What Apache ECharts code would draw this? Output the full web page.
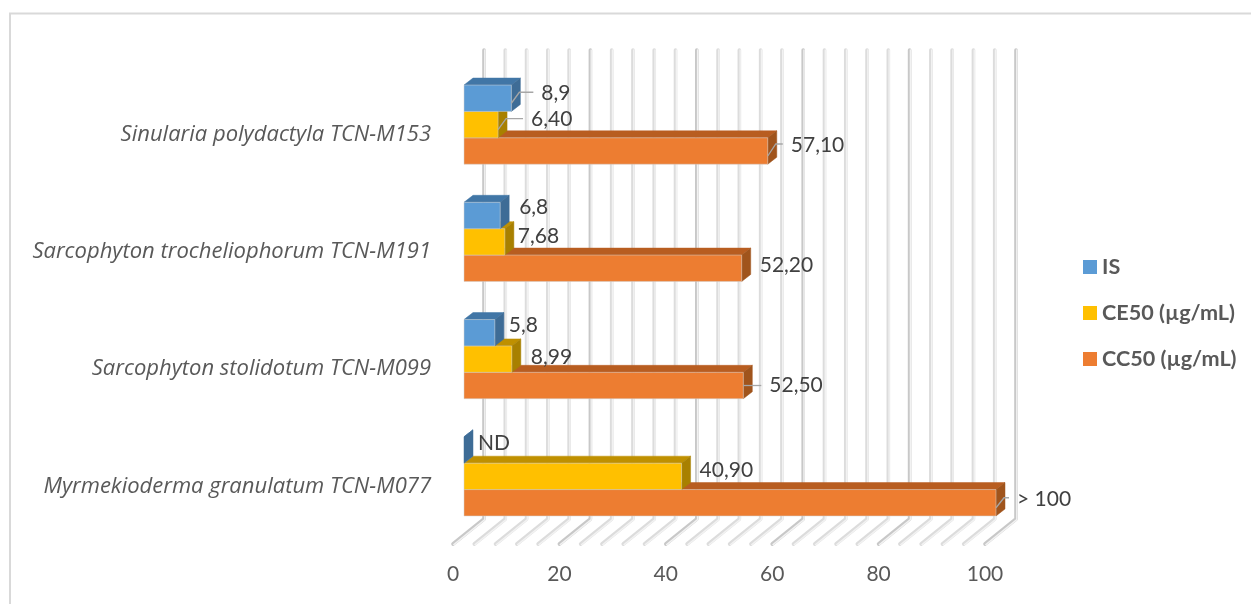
<!DOCTYPE html>
<html><head><meta charset="utf-8">
<style>html,body{margin:0;padding:0;background:#fff}#c{width:1251px;height:604px}</style>
<script src="https://cdn.jsdelivr.net/npm/echarts@6/dist/echarts.min.js"></script>
</head><body><div id="c"></div>
<script>
const categories = ['Myrmekioderma granulatum TCN-M077','Sarcophyton stolidotum TCN-M099','Sarcophyton trocheliophorum TCN-M191','Sinularia polydactyla TCN-M153'];
const isValues = [0, 5.8, 6.8, 8.9];
const ceValues = [40.9, 8.99, 7.68, 6.4];
const ccValues = [100, 52.5, 52.2, 57.1];
const isLabels = ['ND','5,8','6,8','8,9'];
const ceLabels = ['40,90','8,99','7,68','6,40'];
const ccLabels = ['> 100','52,50','52,20','57,10'];
const gridValues = [0,4,8,12,16,20,24,28,32,36,40,44,48,52,56,60,64,68,72,76,80,84,88,92,96,100];
// label placement relative to bar end: [text dx, text dy from bar centre, has leader line]
const isShift = [[5,-7,0],[5,-8,0],[10,-8,0],[21,-5,1]];
const ceShift = [[9,-6,0],[10,-2,0],[4,-6,0],[24,-5,1]];
const ccShift = [[12,-4,1],[17,0,1],[9,-3,0],[14,-6,1]];

const DX = 9, DY = -7, BAR = 0.225;
const FONT = 'Lato, Carlito, Calibri, sans-serif';

function barSeries(name, values, labels, shift, slot, front, side, top) {
  return {
    type: 'custom', name, coordinateSystem: 'cartesian2d', z: 5,
    itemStyle: {color: front},
    data: values.map((v, i) => [v, i]),
    encode: {x: 0, y: 1},
    renderItem(params, api) {
      const i = api.value(1), v = api.value(0);
      const band = api.size([0, 1])[1], h = band * BAR;
      const p0 = api.coord([0, i]), p1 = api.coord([v, i]);
      const x0 = p0[0], x1 = p1[0], yc = p0[1] + slot * h;
      const t = yc - h / 2, b = yc + h / 2;
      const poly = (pts, fill) => ({type: 'polygon', shape: {points: pts}, style: {fill, stroke: fill, lineWidth: 0.5}});
      const children = [
        poly([[x0, t], [x1, t], [x1 + DX, t + DY], [x0 + DX, t + DY]], top),
        poly([[x1, t], [x1 + DX, t + DY], [x1 + DX, b + DY], [x1, b]], side)
      ];
      if (x1 > x0) children.push({type: 'rect', shape: {x: x0, y: t, width: x1 - x0, height: h}, style: {fill: front, stroke: '#d0d0d0', lineWidth: 0.5}});
      const s = shift[params.dataIndex];
      const tx = x1 + DX + s[0], ty = yc + s[1];
      if (s[2]) {
        const ly = ty - (s[1] < 0 ? 1 : 0);
        children.push({type: 'polyline', shape: {points: [[x1, s[1] < 0 ? yc + 5 : ly], [x1 + DX - 1, ly], [tx - 8, ly]]}, style: {fill: null, stroke: '#a6a6a6', lineWidth: 1.3}});
      }
      children.push({type: 'text', style: {text: labels[params.dataIndex], x: tx, y: ty, fill: '#404040', font: '21px ' + FONT, textAlign: 'left', textVerticalAlign: 'middle'}});
      return {type: 'group', children};
    }
  };
}

const option = {
  animation: false,
  backgroundColor: '#fff',
  grid: {left: 464, top: 66, width: 532, height: 469, containLabel: false},
  xAxis: {type: 'value', min: 0, max: 100, interval: 20,
    axisLine: {show: false}, axisTick: {show: false}, splitLine: {show: false},
    axisLabel: {color: '#595959', fontFamily: FONT, fontSize: 21, margin: 29, padding: [0, 22, 0, 0]}},
  yAxis: {type: 'category', data: categories,
    axisLine: {show: false}, axisTick: {show: false}, splitLine: {show: false},
    axisLabel: {color: '#595959', fontFamily: '"Open Sans", sans-serif', fontSize: 22, lineHeight: 20, fontStyle: 'italic', margin: 33, verticalAlign: 'top'}},
  legend: {orient: 'vertical', left: 1083, top: 256, padding: 0, itemWidth: 14, itemHeight: 14, itemGap: 24, icon: 'rect',
    data: ['IS', 'CE50 (µg/mL)', 'CC50 (µg/mL)'],
    textStyle: {color: '#595959', fontFamily: FONT, fontSize: 21.6, lineHeight: 21, fontWeight: 'bold'}, selectedMode: false},
  graphic: [{type: 'polyline', shape: {points: [[10, 604], [10, 13.5], [1251, 13.5]]}, style: {fill: null, stroke: '#d9d9d9', lineWidth: 2}, silent: true}],
  series: [
    {type: 'custom', name: 'walls', z: 1, silent: true, coordinateSystem: 'cartesian2d',
     data: gridValues.map(v => [v, 0]), encode: {x: 0, y: 1},
     renderItem(params, api) {
       const v = api.value(0), cs = params.coordSys;
       const x = api.coord([v, 0])[0], major = v % 20 === 0;
       const bx = x + 20, top = cs.y - 16, bot = cs.y + cs.height - 16, fx = x - 11, fy = cs.y + cs.height + 9;
       const pts = [[bx, top], [bx, bot], [fx, fy]];
       const inner = [[bx + 0.8, top], [bx + 0.8, bot + 0.6], [fx + 0.8, fy + 0.6]];
       return {type: 'group', children: [
         {type: 'polyline', shape: {points: pts}, style: {fill: null, stroke: major ? '#c8c8c8' : '#dcdcdc', lineWidth: 3.6, lineCap: 'round', lineJoin: 'round'}},
         {type: 'polyline', shape: {points: inner}, style: {fill: null, stroke: '#f2f2f2', lineWidth: 1.4, lineCap: 'round', lineJoin: 'round'}}
       ]};
     }},
    barSeries('CC50 (µg/mL)', ccValues, ccLabels, ccShift, 1, '#ED7D31', '#A0541C', '#B85D20'),
    barSeries('CE50 (µg/mL)', ceValues, ceLabels, ceShift, 0, '#FFC000', '#A88000', '#BF9000'),
    barSeries('IS', isValues, isLabels, isShift, -1, '#5B9BD5', '#3E6C96', '#4176A6')
  ]
};
echarts.init(document.getElementById('c'), null, {renderer: 'canvas'}).setOption(option);
</script></body></html>
